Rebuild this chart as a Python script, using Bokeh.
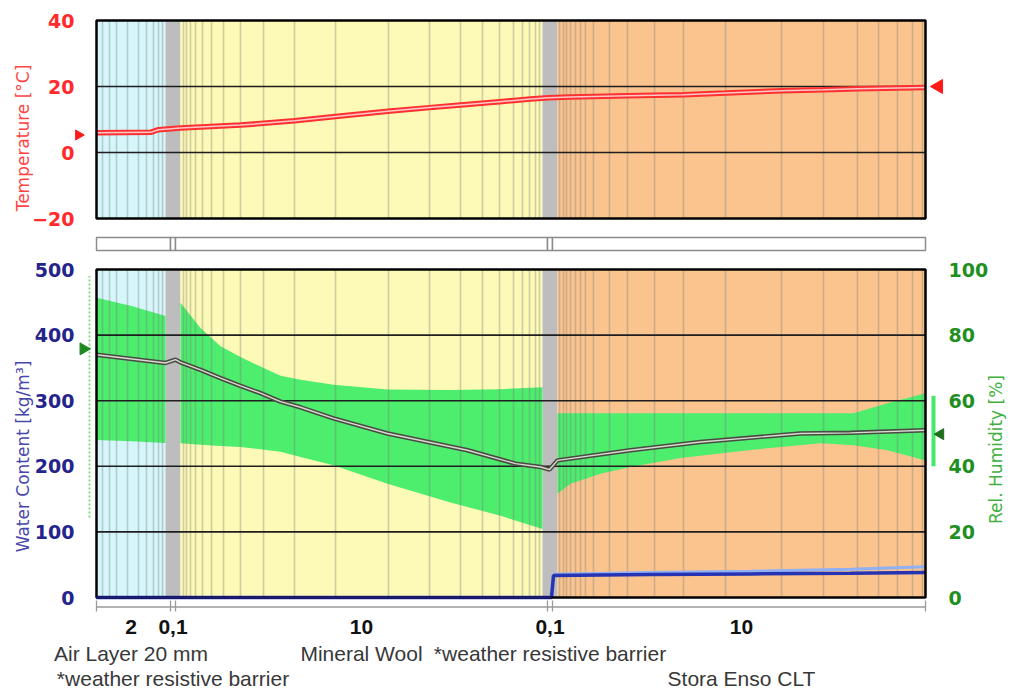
import math
from bokeh.plotting import figure
from bokeh.models import Range1d, LinearAxis, FixedTicker, Label
from bokeh.core.properties import value
from bokeh.embed import file_html
from bokeh.resources import INLINE

# ---------------- data ----------------
# construction layers, x in the display units of the WUFI cross-section
layer_edges = [0, 69, 84, 446, 461, 829]
layer_thickness_cm = ["2", "0,1", "10", "0,1", "10"]
layer_names = ["Air Layer 20 mm", "*weather resistive barrier", "Mineral Wool",
               "*weather resistive barrier", "Stora Enso CLT"]
layer_name_rows = [0, 1, 0, 0, 1]
layer_colors = ["#d5f6fa", "#bdbdbd", "#fdf9b6", "#bdbdbd", "#fbc48e"]
is_membrane = [False, True, False, True, False]

# numerical grid (mesh) lines
mesh_x = [6, 13, 20, 31, 42, 50, 57, 62, 66,
          87, 90, 94, 99, 106, 115, 127, 144, 167, 198, 239, 292, 333, 364, 386,
          403, 417, 426, 433, 439, 443,
          463, 467, 470, 474, 479, 484, 489, 497, 513, 531, 558, 587, 629, 685,
          727, 761, 782, 801, 816, 826]

# temperature profile [°C]
temp_x = [0, 54, 62, 84, 144, 198, 239, 294, 333, 364, 403, 434, 452, 474,
          531, 587, 629, 685, 727, 761, 829]
temp_c = [6.0, 6.1, 6.9, 7.4, 8.3, 9.6, 10.9, 12.6, 13.6, 14.4, 15.4, 16.2,
          16.6, 16.8, 17.2, 17.5, 18.0, 18.7, 19.0, 19.3, 19.7]
temp_outside = 5.3
temp_inside = 20.0

# relative humidity min/max band per layer [%]
rh_air_x = [0, 35, 69]
rh_air_lo = [48.0, 47.6, 47.1]
rh_air_hi = [91.4, 88.9, 85.8]
rh_wool_x = [84, 104, 124, 144, 164, 184, 204, 237, 291, 354, 404, 446]
rh_wool_lo = [47.0, 46.6, 46.2, 45.9, 45.2, 44.4, 42.8, 40.3, 34.7, 29.0, 24.9, 20.9]
rh_wool_hi = [89.9, 82.2, 76.6, 73.3, 70.4, 67.6, 66.4, 64.9, 63.4, 63.3, 63.5, 64.1]
rh_clt_x = [461, 474, 504, 534, 584, 654, 724, 757, 791, 829]
rh_clt_lo = [31.6, 34.7, 37.7, 39.8, 42.5, 45.0, 47.0, 46.4, 44.9, 41.8]
rh_clt_hi = [56.2, 56.2, 56.2, 56.2, 56.2, 56.2, 56.2, 56.2, 59.2, 62.3]

# current relative humidity profile [%]
rh_x = [0, 69, 79, 84, 104, 124, 144, 164, 184, 204, 237, 291, 371, 419, 444,
        453, 461, 534, 604, 704, 754, 829]
rh_pct = [74.0, 71.5, 72.5, 71.7, 69.4, 66.9, 64.5, 62.3, 59.7, 58.0, 54.6, 50.0,
          44.9, 40.8, 39.8, 39.0, 41.8, 44.9, 47.4, 50.0, 50.2, 51.0]
rh_outside = 75.8
rh_outside_range = (24.4, 98.0)
rh_inside = 49.8
rh_inside_range = (40.0, 61.5)

# water content [kg/m³]
wc_x = [0, 455, 457, 554, 654, 754, 829]
wc_kg = [0, 0, 33.5, 35.0, 36.0, 37.0, 38.0]
wc_max_x = [457, 554, 654, 754, 829]
wc_max_kg = [35.5, 38.0, 40.0, 43.0, 47.0]

temp_ticks = [-20, 0, 20, 40]
wc_ticks = [0, 100, 200, 300, 400, 500]
rh_ticks = [0, 20, 40, 60, 80, 100]

# ---------------- layout / styling ----------------
PAGE_W, PAGE_H = 1010, 691
PANEL_L = 96                  # page x of the panels' left edge
TOP_PANEL = (218, 20)         # page y of temperature -20 / 40
BOT_PANEL = (597, 269)        # page y of water content 0 / 500
STRIP = (250, 237)            # page y of the assembly strip
RED = "#ff2a2a"
RED_T = "#ff4545"
NAVY = "#24248c"
NAVY_T = "#4848aa"
GREEN_D = "#1f8f1f"
GREEN_T = "#40b040"
BAND = "#4ded6e"
NUM_FONT = "DejaVu Sans"
TXT_FONT = "Liberation Sans"


def yrange(v0, y0, v1, y1):
    """range for the full-height frame so that value v0 sits at page y0 and v1 at y1"""
    s = (y0 - y1) / (v1 - v0)
    return Range1d(v0 - (PAGE_H - y0) / s, v1 + y1 / s)


def style_axis(ax, color, standoff, ticks):
    ax.ticker = FixedTicker(ticks=ticks)
    ax.axis_line_color = None
    ax.major_tick_line_color = None
    ax.minor_tick_line_color = None
    ax.major_tick_out = 0
    ax.major_tick_in = 0
    ax.minor_tick_out = 0
    ax.minor_tick_in = 0
    ax.major_label_standoff = standoff
    ax.major_label_text_font = NUM_FONT
    ax.major_label_text_font_style = "bold"
    ax.major_label_text_font_size = "19px"
    ax.major_label_text_color = color


x0, x1 = layer_edges[0], layer_edges[-1]
lefts = layer_edges[:-1]
rights = layer_edges[1:]
centers = [(a + b) / 2 for a, b in zip(lefts, rights)]

p = figure(width=PAGE_W, height=PAGE_H,
           x_range=Range1d(-PANEL_L, PAGE_W - PANEL_L),
           y_range=yrange(wc_ticks[0], BOT_PANEL[0], wc_ticks[-1], BOT_PANEL[1]),
           output_backend="svg", toolbar_location=None,
           x_axis_location=None, y_axis_location=None,
           min_border_left=0, min_border_right=0, min_border_top=0, min_border_bottom=0)
p.extra_y_ranges = {
    "temp": yrange(temp_ticks[0], TOP_PANEL[0], temp_ticks[-1], TOP_PANEL[1]),
    "rh": yrange(rh_ticks[0], BOT_PANEL[0], rh_ticks[-1], BOT_PANEL[1]),
    "strip": yrange(0, STRIP[0], 1, STRIP[1]),
    "page": Range1d(PAGE_H, 0),
}
p.grid.visible = False
p.outline_line_color = None
p.background_fill_color = "white"
p.border_fill_color = "white"

# axes, pinned to the panel edges
tax = LinearAxis(y_range_name="temp", fixed_location=x0)
style_axis(tax, RED, 22, temp_ticks)
p.add_layout(tax, "left")
wax = LinearAxis(fixed_location=x0)
style_axis(wax, NAVY, 22, wc_ticks)
p.add_layout(wax, "left")
rax = LinearAxis(y_range_name="rh", fixed_location=x1)
style_axis(rax, GREEN_D, 23, rh_ticks)
p.add_layout(rax, "right")

# layer backgrounds
p.quad(left=lefts, right=rights, bottom=temp_ticks[0], top=temp_ticks[-1],
       fill_color=layer_colors, line_color=None, y_range_name="temp")
p.quad(left=lefts, right=rights, bottom=wc_ticks[0], top=wc_ticks[-1],
       fill_color=layer_colors, line_color=None)

# RH min/max band
for xs, lo, hi in [(rh_air_x, rh_air_lo, rh_air_hi),
                   (rh_wool_x, rh_wool_lo, rh_wool_hi),
                   (rh_clt_x, rh_clt_lo, rh_clt_hi)]:
    p.varea(x=xs, y1=lo, y2=hi, fill_color=BAND, y_range_name="rh")

# mesh lines
p.segment(x0=mesh_x, y0=temp_ticks[0], x1=mesh_x, y1=temp_ticks[-1],
          line_color="#7a7a7a", line_alpha=0.35, line_width=1.6, y_range_name="temp")
p.segment(x0=mesh_x, y0=wc_ticks[0], x1=mesh_x, y1=wc_ticks[-1],
          line_color="#7a7a7a", line_alpha=0.35, line_width=1.6)

# horizontal grid lines
tg = temp_ticks[1:-1]
p.segment(x0=x0, y0=tg, x1=x1, y1=tg, line_color="#1e1e1e", line_width=1.6,
          y_range_name="temp")
wg = wc_ticks[1:-1]
p.segment(x0=x0, y0=wg, x1=x1, y1=wg, line_color="#1e1e1e", line_width=1.6)

# temperature
p.line(temp_x, temp_c, line_color="#ff3030", line_width=5.5, y_range_name="temp")
p.line(temp_x, temp_c, line_color="#ffc8c8", line_width=1.5, y_range_name="temp")

# water content and RH
p.line(wc_max_x, wc_max_kg, line_color="#8fb0f5", line_width=3)
p.line(wc_x, wc_kg, line_color="#2634b4", line_width=3.5)
p.line(rh_x, rh_pct, line_color="#4a4a44", line_width=4.5, y_range_name="rh")
p.line(rh_x, rh_pct, line_color="#d8dccc", line_width=1.4, y_range_name="rh")

# panel frames
p.quad(left=x0, right=x1, bottom=temp_ticks[0], top=temp_ticks[-1], fill_color=None,
       line_color="black", line_width=2.5, y_range_name="temp")
p.quad(left=x0, right=x1, bottom=wc_ticks[0], top=wc_ticks[-1], fill_color=None,
       line_color="black", line_width=2.5)
p.segment(x0=x0, y0=0, x1=wc_x[1], y1=0, line_color="#1c1c78", line_width=2.5)

# assembly strip
strip_left = [x0]
strip_right = []
for i in range(len(centers)):
    if is_membrane[i]:
        strip_right += [centers[i] - 2.5, centers[i] + 2.5]
        strip_left += [centers[i] - 2.5, centers[i] + 2.5]
strip_right.append(x1)
p.quad(left=strip_left, right=strip_right, bottom=0, top=1, fill_color="white",
       line_color="#8c8c8c", line_width=1.5, y_range_name="strip")

# boundary conditions
p.scatter(x=[-18], y=[temp_outside], marker="triangle", angle=-math.pi / 2, size=10,
          fill_color="#ff1a1a", line_color="#ff1a1a", y_range_name="temp")
p.scatter(x=[842], y=[temp_inside], marker="triangle", angle=math.pi / 2, size=14,
          fill_color="#ff1a1a", line_color="#ff1a1a", y_range_name="temp")
p.segment(x0=-7, y0=rh_outside_range[0], x1=-7, y1=rh_outside_range[1],
          line_color="#80e080", line_width=2, line_dash="2 2", y_range_name="rh")
p.segment(x0=837, y0=rh_inside_range[0], x1=837, y1=rh_inside_range[1],
          line_color="#45e86a", line_width=4, y_range_name="rh")
p.scatter(x=[-13], y=[rh_outside], marker="triangle", angle=-math.pi / 2, size=12,
          fill_color="#1e8a1e", line_color="#1e8a1e", y_range_name="rh")
p.scatter(x=[844], y=[rh_inside], marker="triangle", angle=math.pi / 2, size=11,
          fill_color="#1e6e1e", line_color="#1e6e1e", y_range_name="rh")

# axis titles
p.add_layout(Label(x=-73.5, y=137.5, text="Temperature [°C]", angle=90, angle_units="deg",
                   text_align="center", text_baseline="middle", text_font=NUM_FONT,
                   text_font_size="17px", text_color=RED_T, y_range_name="page"))
p.add_layout(Label(x=-73.5, y=456, text="Water Content [kg/m³]", angle=90, angle_units="deg",
                   text_align="center", text_baseline="middle", text_font=NUM_FONT,
                   text_font_size="17px", text_color=NAVY_T, y_range_name="page"))
p.add_layout(Label(x=899.5, y=449, text="Rel. Humidity [%]", angle=90, angle_units="deg",
                   text_align="center", text_baseline="middle", text_font=NUM_FONT,
                   text_font_size="17px", text_color=GREEN_T, y_range_name="page"))

# dimension line, thicknesses and layer names
p.segment(x0=x0, y0=606.5, x1=x1, y1=606.5, line_color="#9a9a9a", line_width=1.3,
          y_range_name="page")
tick_x = [strip_left[0]] + strip_right
p.segment(x0=tick_x, y0=600, x1=tick_x, y1=611, line_color="#9a9a9a", line_width=1.3,
          y_range_name="page")
p.text(x=centers, y=626.5, text=layer_thickness_cm, text_font=value(TXT_FONT),
       text_font_style="bold", text_font_size="21px", text_align="center",
       text_baseline="middle", text_color="#111111", y_range_name="page")
name_y = [653 if row == 0 else 678 for row in layer_name_rows]
p.text(x=centers, y=name_y, text=layer_names, text_font=value(TXT_FONT),
       text_font_size="21px", text_align="center", text_baseline="middle",
       text_color="#383838", y_range_name="page")

open("out.html", "w").write(file_html(p, INLINE))
